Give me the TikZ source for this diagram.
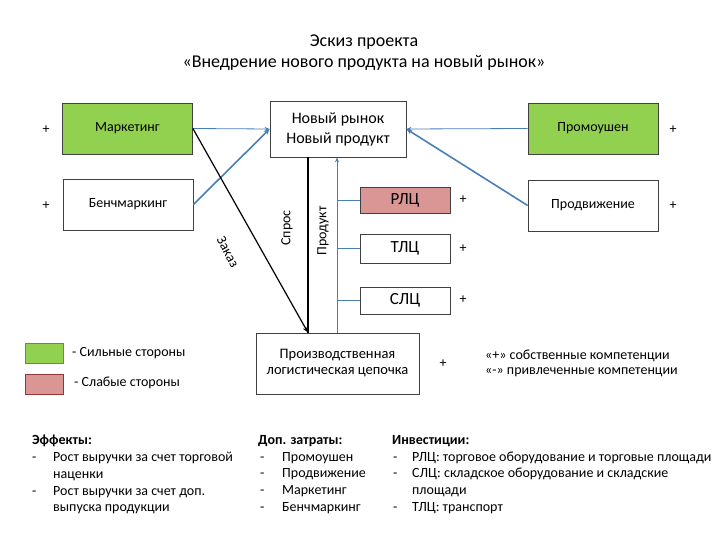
\documentclass[tikz,border=0pt]{standalone}
\usepackage{fontspec}
\setmainfont{Carlito}
\usetikzlibrary{arrows.meta}
\definecolor{strong}{HTML}{92D050}
\definecolor{weak}{HTML}{D99694}
\definecolor{weakline}{HTML}{943634}
\definecolor{arrowblue}{HTML}{4A7EBB}
\definecolor{boxline}{HTML}{404040}
\tikzset{
  box/.style={draw=boxline, line width=0.8pt, inner sep=0pt, align=center, font=\fontsize{14}{17}\selectfont},
  lcbox/.style={box, minimum width=90pt, font=\fontsize{17}{20}\selectfont},
  blueline/.style={draw=arrowblue, line width=0.8pt},
  bluearrow/.style={blueline, -{Stealth[length=5pt,width=4pt]}},
  bluethick/.style={draw=arrowblue, line width=1.6pt, -{Stealth[length=6pt,width=5pt]}},
  blackarrow/.style={draw=black, line width=1.2pt, -{Stealth[length=6pt,width=5pt]}},
  plus/.style={font=\fontsize{14}{16}\selectfont, inner sep=0pt},
  txt/.style={font=\fontsize{14}{16.8}\selectfont, inner sep=0pt, align=left},
  lbl/.style={font=\fontsize{14}{16}\selectfont, inner sep=0pt}
}
\begin{document}
\begin{tikzpicture}[x=1pt,y=-1pt]
\useasboundingbox (0,0) rectangle (720,540);
% title
\node[font=\fontsize{18}{21}\selectfont, align=center, inner sep=0pt] (title) at (364,52.5)
  {Эскиз проекта\\«Внедрение нового продукта на новый рынок»};
% boxes
\node[box, fill=strong, minimum width=130pt, minimum height=51pt] (mark) at (127.5,128.5) {Маркетинг};
\node[box, minimum width=130pt, minimum height=51pt] (bench) at (128,204.5) {Бенчмаркинг};
\node[box, minimum width=136pt, minimum height=56pt, font=\fontsize{16}{20}\selectfont] (new) at (338,129) {Новый рынок\\Новый продукт};
\node[box, fill=strong, minimum width=130pt, minimum height=51pt] (promo) at (593,128.5) {Промоушен};
\node[box, minimum width=130pt, minimum height=51pt] (prodv) at (593,205.5) {Продвижение};
\node[lcbox, fill=weak, minimum height=26pt] (rlc) at (405,200) {РЛЦ};
\node[lcbox, minimum height=29pt] (tlc) at (405,248.5) {ТЛЦ};
\node[lcbox, minimum height=27pt] (slc) at (405,300.5) {СЛЦ};
\node[box, minimum width=163pt, minimum height=61pt, font=\fontsize{14.5}{16}\selectfont] (chain) at (337.5,363.5) {Производственная\\логистическая цепочка};
% plus signs
\node[plus] (p1) at (46,130) {+};
\node[plus] (p2) at (46,206) {+};
\node[plus] (p3) at (673,130) {+};
\node[plus] (p4) at (673,206) {+};
\node[plus] (p5) at (463,200) {+};
\node[plus] (p6) at (463,249) {+};
\node[plus] (p7) at (463,300) {+};
\node[plus] (p8) at (443,364) {+};
% helper x coordinates
\coordinate (sx) at (308,0);
\coordinate (bx) at (337,0);
% connectors
\draw[bluearrow] (mark.east) -- (new.west);
\draw[bluethick] (bench.east) -- (new.west);
\draw[bluearrow] (promo.west) -- (new.east);
\draw[bluethick] (prodv.west) -- (new.east);
\draw[draw=black, line width=2pt] (new.south -| sx) -- (chain.north -| sx);
\draw[blackarrow] (mark.east) -- (chain.north -| sx);
\draw[bluearrow] (chain.north -| bx) -- (new.south -| bx);
\draw[blueline] (bx |- rlc.west) -- (rlc.west);
\draw[blueline] (bx |- tlc.west) -- (tlc.west);
\draw[blueline] (bx |- slc.west) -- (slc.west);
% labels
\node[lbl, rotate=-62] (zakaz) at (228,252) {Заказ};
\node[lbl, rotate=90] (spros) at (287,228) {Спрос};
\node[lbl, rotate=90] (produkt) at (323,231) {Продукт};
% legend
\node[draw=boxline!70, fill=strong, line width=0.6pt, minimum width=38pt, minimum height=20pt, inner sep=0pt] (lgs) at (44,353) {};
\node[draw=weakline, fill=weak, line width=0.6pt, minimum width=38pt, minimum height=20pt, inner sep=0pt] (lgw) at (44,384) {};
\node[lbl, anchor=west] (lgst) at (72,353) {- Сильные стороны};
\node[lbl, anchor=west] (lgwt) at (74,383) {- Слабые стороны};
\node[txt, anchor=west] (own) at (485,356) {«+» собственные компетенции};
\node[txt, anchor=west] (ext) at (485,372) {«-» привлеченные компетенции};
% bottom blocks
\node[txt, anchor=north west] (eff) at (32,435)
 {\textbf{Эффекты:}\\
  \makebox[21pt][l]{-}Рост выручки за счет торговой\\
  \hspace*{21pt}наценки\\
  \makebox[21pt][l]{-}Рост выручки за счет доп.\\
  \hspace*{21pt}выпуска продукции};
\node[txt, anchor=north west] (cost) at (258,435)
 {\textbf{Доп. затраты:}\\
  \makebox[24pt][l]{\hspace*{2pt}-}Промоушен\\
  \makebox[24pt][l]{\hspace*{2pt}-}Продвижение\\
  \makebox[24pt][l]{\hspace*{2pt}-}Маркетинг\\
  \makebox[24pt][l]{\hspace*{2pt}-}Бенчмаркинг};
\node[txt, anchor=north west] (inv) at (392,435)
 {\textbf{Инвестиции:}\\
  \makebox[20pt][l]{\hspace*{1pt}-}РЛЦ: торговое оборудование и торговые площади\\
  \makebox[20pt][l]{\hspace*{1pt}-}СЛЦ: складское оборудование и складские\\
  \hspace*{20pt}площади\\
  \makebox[20pt][l]{\hspace*{1pt}-}ТЛЦ: транспорт};
\end{tikzpicture}
\end{document}
